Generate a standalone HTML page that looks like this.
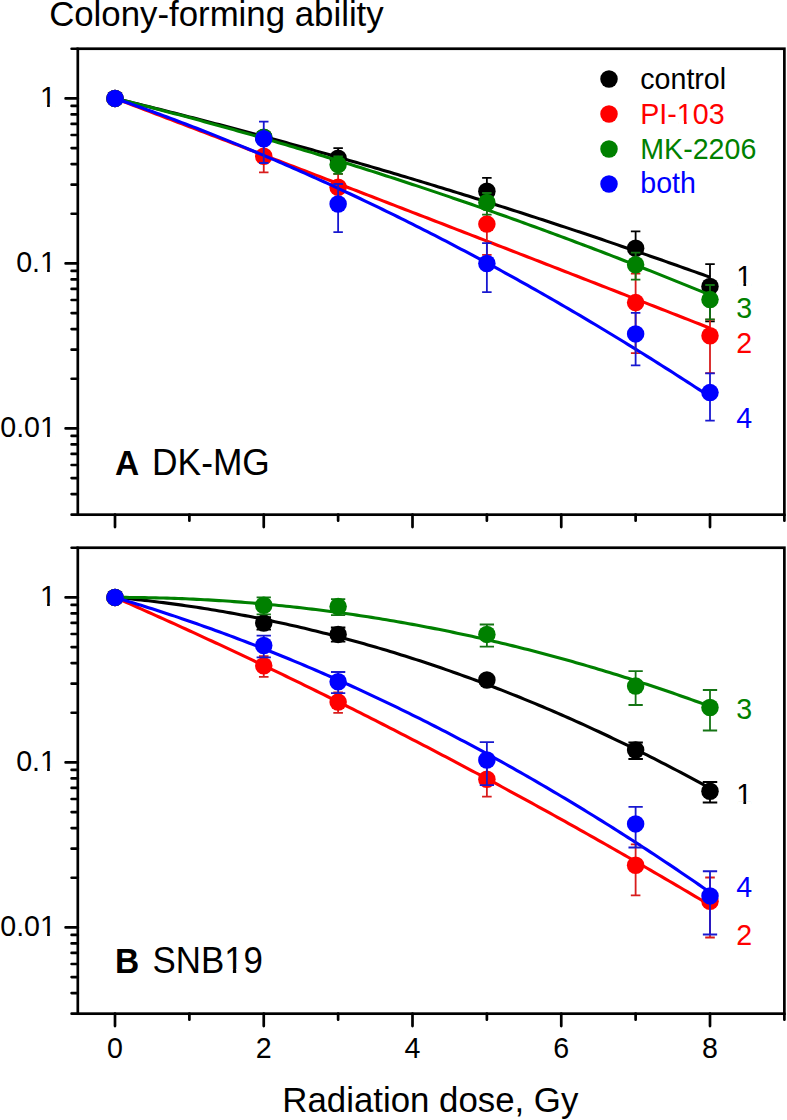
<!DOCTYPE html>
<html><head><meta charset="utf-8"><title>Colony-forming ability</title>
<style>html,body{margin:0;padding:0;background:#fff;overflow:hidden;width:787px;height:1120px;font-family:"Liberation Sans",sans-serif;}svg{display:block;}text{font-kerning:none;}</style>
</head><body>
<svg width="787" height="1120" viewBox="0 0 787 1120">
<rect width="787" height="1120" fill="#fff"/>
<g font-family="Liberation Sans, sans-serif" style="font-kerning:none">
<text transform="matrix(1.00900 0 0 1.00000 49.13 26.00)" font-size="34.50" fill="#000">Colony-forming ability</text>
<polyline points="115.00,98.40 118.72,99.30 122.44,100.20 126.16,101.10 129.88,102.01 133.59,102.92 137.31,103.83 141.03,104.75 144.75,105.67 148.47,106.59 152.19,107.51 155.91,108.44 159.62,109.37 163.34,110.30 167.06,111.23 170.78,112.17 174.50,113.11 178.22,114.05 181.94,115.00 185.66,115.95 189.38,116.90 193.09,117.85 196.81,118.81 200.53,119.77 204.25,120.73 207.97,121.69 211.69,122.66 215.41,123.63 219.12,124.61 222.84,125.58 226.56,126.56 230.28,127.54 234.00,128.53 237.72,129.51 241.44,130.50 245.16,131.49 248.88,132.49 252.59,133.49 256.31,134.49 260.03,135.49 263.75,136.50 267.47,137.51 271.19,138.52 274.91,139.53 278.62,140.55 282.34,141.57 286.06,142.59 289.78,143.62 293.50,144.65 297.22,145.68 300.94,146.71 304.66,147.75 308.38,148.79 312.09,149.83 315.81,150.87 319.53,151.92 323.25,152.97 326.97,154.02 330.69,155.08 334.41,156.14 338.12,157.20 341.84,158.26 345.56,159.33 349.28,160.40 353.00,161.47 356.72,162.55 360.44,163.62 364.16,164.71 367.88,165.79 371.59,166.87 375.31,167.96 379.03,169.06 382.75,170.15 386.47,171.25 390.19,172.35 393.91,173.45 397.62,174.55 401.34,175.66 405.06,176.77 408.78,177.89 412.50,179.00 416.22,180.12 419.94,181.24 423.66,182.37 427.38,183.50 431.09,184.63 434.81,185.76 438.53,186.90 442.25,188.03 445.97,189.18 449.69,190.32 453.41,191.47 457.12,192.62 460.84,193.77 464.56,194.92 468.28,196.08 472.00,197.24 475.72,198.40 479.44,199.57 483.16,200.74 486.88,201.91 490.59,203.08 494.31,204.26 498.03,205.44 501.75,206.62 505.47,207.81 509.19,209.00 512.91,210.19 516.62,211.38 520.34,212.58 524.06,213.78 527.78,214.98 531.50,216.18 535.22,217.39 538.94,218.60 542.66,219.81 546.38,221.03 550.09,222.25 553.81,223.47 557.53,224.69 561.25,225.92 564.97,227.15 568.69,228.38 572.41,229.62 576.12,230.85 579.84,232.09 583.56,233.34 587.28,234.58 591.00,235.83 594.72,237.08 598.44,238.34 602.16,239.59 605.88,240.85 609.59,242.12 613.31,243.38 617.03,244.65 620.75,245.92 624.47,247.19 628.19,248.47 631.91,249.75 635.62,251.03 639.34,252.31 643.06,253.60 646.78,254.89 650.50,256.18 654.22,257.48 657.94,258.78 661.66,260.08 665.38,261.38 669.09,262.69 672.81,264.00 676.53,265.31 680.25,266.63 683.97,267.94 687.69,269.26 691.41,270.59 695.12,271.91 698.84,273.24 702.56,274.57 706.28,275.91 710.00,277.24" fill="none" stroke="#000000" stroke-width="3.10" stroke-linejoin="round"/>
<path d="M338.12 148.10V170.20M333.38 148.10H342.88M333.38 170.20H342.88" stroke="#000000" stroke-width="1.80" fill="none"/>
<path d="M486.88 177.90V207.54M482.12 177.90H491.62M482.12 207.54H491.62" stroke="#000000" stroke-width="1.80" fill="none"/>
<path d="M635.62 231.40V270.19M630.88 231.40H640.38M630.88 270.19H640.38" stroke="#000000" stroke-width="1.80" fill="none"/>
<path d="M710.00 264.10V321.30M705.25 264.10H714.75M705.25 321.30H714.75" stroke="#000000" stroke-width="1.80" fill="none"/>
<circle cx="115.00" cy="98.40" r="8.75" fill="#000000"/>
<circle cx="263.75" cy="137.50" r="8.75" fill="#000000"/>
<circle cx="338.12" cy="158.30" r="8.75" fill="#000000"/>
<circle cx="486.88" cy="191.20" r="8.75" fill="#000000"/>
<circle cx="635.62" cy="248.20" r="8.75" fill="#000000"/>
<circle cx="710.00" cy="286.40" r="8.75" fill="#000000"/>
<polyline points="115.00,98.40 118.72,99.81 122.44,101.22 126.16,102.64 129.88,104.05 133.59,105.46 137.31,106.88 141.03,108.29 144.75,109.71 148.47,111.12 152.19,112.54 155.91,113.95 159.62,115.37 163.34,116.78 167.06,118.20 170.78,119.62 174.50,121.03 178.22,122.45 181.94,123.87 185.66,125.28 189.38,126.70 193.09,128.12 196.81,129.54 200.53,130.96 204.25,132.38 207.97,133.80 211.69,135.22 215.41,136.64 219.12,138.06 222.84,139.48 226.56,140.90 230.28,142.32 234.00,143.74 237.72,145.16 241.44,146.59 245.16,148.01 248.88,149.43 252.59,150.85 256.31,152.28 260.03,153.70 263.75,155.12 267.47,156.55 271.19,157.97 274.91,159.40 278.62,160.82 282.34,162.25 286.06,163.67 289.78,165.10 293.50,166.53 297.22,167.95 300.94,169.38 304.66,170.81 308.38,172.23 312.09,173.66 315.81,175.09 319.53,176.52 323.25,177.95 326.97,179.38 330.69,180.81 334.41,182.24 338.12,183.67 341.84,185.10 345.56,186.53 349.28,187.96 353.00,189.39 356.72,190.82 360.44,192.25 364.16,193.68 367.88,195.12 371.59,196.55 375.31,197.98 379.03,199.41 382.75,200.85 386.47,202.28 390.19,203.71 393.91,205.15 397.62,206.58 401.34,208.02 405.06,209.45 408.78,210.89 412.50,212.33 416.22,213.76 419.94,215.20 423.66,216.63 427.38,218.07 431.09,219.51 434.81,220.95 438.53,222.38 442.25,223.82 445.97,225.26 449.69,226.70 453.41,228.14 457.12,229.58 460.84,231.02 464.56,232.46 468.28,233.90 472.00,235.34 475.72,236.78 479.44,238.22 483.16,239.66 486.88,241.10 490.59,242.55 494.31,243.99 498.03,245.43 501.75,246.88 505.47,248.32 509.19,249.76 512.91,251.21 516.62,252.65 520.34,254.09 524.06,255.54 527.78,256.98 531.50,258.43 535.22,259.88 538.94,261.32 542.66,262.77 546.38,264.21 550.09,265.66 553.81,267.11 557.53,268.56 561.25,270.00 564.97,271.45 568.69,272.90 572.41,274.35 576.12,275.80 579.84,277.25 583.56,278.70 587.28,280.15 591.00,281.60 594.72,283.05 598.44,284.50 602.16,285.95 605.88,287.40 609.59,288.85 613.31,290.30 617.03,291.76 620.75,293.21 624.47,294.66 628.19,296.11 631.91,297.57 635.62,299.02 639.34,300.48 643.06,301.93 646.78,303.38 650.50,304.84 654.22,306.29 657.94,307.75 661.66,309.21 665.38,310.66 669.09,312.12 672.81,313.57 676.53,315.03 680.25,316.49 683.97,317.95 687.69,319.40 691.41,320.86 695.12,322.32 698.84,323.78 702.56,325.24 706.28,326.70 710.00,328.16" fill="none" stroke="#ff0000" stroke-width="3.10" stroke-linejoin="round"/>
<path d="M263.75 143.23V172.30M259.00 143.23H268.50M259.00 172.30H268.50" stroke="#d81c1c" stroke-width="1.80" fill="none"/>
<path d="M338.12 173.90V203.54M333.38 173.90H342.88M333.38 203.54H342.88" stroke="#d81c1c" stroke-width="1.80" fill="none"/>
<path d="M486.88 202.68V254.80M482.12 202.68H491.62M482.12 254.80H491.62" stroke="#d81c1c" stroke-width="1.80" fill="none"/>
<path d="M635.62 273.60V353.10M630.88 273.60H640.38M630.88 353.10H640.38" stroke="#d81c1c" stroke-width="1.80" fill="none"/>
<path d="M710.00 319.60V373.20M705.25 319.60H714.75M705.25 373.20H714.75" stroke="#d81c1c" stroke-width="1.80" fill="none"/>
<circle cx="115.00" cy="98.40" r="8.75" fill="#ff0000"/>
<circle cx="263.75" cy="156.30" r="8.75" fill="#ff0000"/>
<circle cx="338.12" cy="187.20" r="8.75" fill="#ff0000"/>
<circle cx="486.88" cy="224.10" r="8.75" fill="#ff0000"/>
<circle cx="635.62" cy="302.60" r="8.75" fill="#ff0000"/>
<circle cx="710.00" cy="335.80" r="8.75" fill="#ff0000"/>
<polyline points="115.00,98.40 118.72,99.32 122.44,100.25 126.16,101.18 129.88,102.12 133.59,103.06 137.31,104.00 141.03,104.95 144.75,105.90 148.47,106.85 152.19,107.81 155.91,108.77 159.62,109.74 163.34,110.71 167.06,111.68 170.78,112.66 174.50,113.64 178.22,114.62 181.94,115.61 185.66,116.61 189.38,117.60 193.09,118.60 196.81,119.61 200.53,120.62 204.25,121.63 207.97,122.64 211.69,123.66 215.41,124.69 219.12,125.71 222.84,126.74 226.56,127.78 230.28,128.82 234.00,129.86 237.72,130.91 241.44,131.96 245.16,133.01 248.88,134.07 252.59,135.13 256.31,136.20 260.03,137.27 263.75,138.34 267.47,139.42 271.19,140.50 274.91,141.58 278.62,142.67 282.34,143.76 286.06,144.86 289.78,145.96 293.50,147.06 297.22,148.17 300.94,149.28 304.66,150.40 308.38,151.52 312.09,152.64 315.81,153.77 319.53,154.90 323.25,156.04 326.97,157.17 330.69,158.32 334.41,159.46 338.12,160.61 341.84,161.77 345.56,162.92 349.28,164.09 353.00,165.25 356.72,166.42 360.44,167.59 364.16,168.77 367.88,169.95 371.59,171.13 375.31,172.32 379.03,173.52 382.75,174.71 386.47,175.91 390.19,177.12 393.91,178.32 397.62,179.53 401.34,180.75 405.06,181.97 408.78,183.19 412.50,184.42 416.22,185.65 419.94,186.88 423.66,188.12 427.38,189.36 431.09,190.61 434.81,191.86 438.53,193.11 442.25,194.37 445.97,195.63 449.69,196.90 453.41,198.17 457.12,199.44 460.84,200.72 464.56,202.00 468.28,203.28 472.00,204.57 475.72,205.86 479.44,207.16 483.16,208.46 486.88,209.76 490.59,211.07 494.31,212.38 498.03,213.69 501.75,215.01 505.47,216.33 509.19,217.66 512.91,218.99 516.62,220.32 520.34,221.66 524.06,223.00 527.78,224.35 531.50,225.70 535.22,227.05 538.94,228.41 542.66,229.77 546.38,231.14 550.09,232.50 553.81,233.88 557.53,235.25 561.25,236.63 564.97,238.02 568.69,239.41 572.41,240.80 576.12,242.19 579.84,243.59 583.56,245.00 587.28,246.40 591.00,247.81 594.72,249.23 598.44,250.65 602.16,252.07 605.88,253.49 609.59,254.93 613.31,256.36 617.03,257.80 620.75,259.24 624.47,260.68 628.19,262.13 631.91,263.59 635.62,265.04 639.34,266.50 643.06,267.97 646.78,269.44 650.50,270.91 654.22,272.38 657.94,273.86 661.66,275.35 665.38,276.84 669.09,278.33 672.81,279.82 676.53,281.32 680.25,282.82 683.97,284.33 687.69,285.84 691.41,287.36 695.12,288.87 698.84,290.40 702.56,291.92 706.28,293.45 710.00,294.99" fill="none" stroke="#008000" stroke-width="3.10" stroke-linejoin="round"/>
<path d="M338.12 156.37V173.90M333.38 156.37H342.88M333.38 173.90H342.88" stroke="#147414" stroke-width="1.80" fill="none"/>
<path d="M486.88 193.00V214.60M482.12 193.00H491.62M482.12 214.60H491.62" stroke="#147414" stroke-width="1.80" fill="none"/>
<path d="M635.62 252.60V279.70M630.88 252.60H640.38M630.88 279.70H640.38" stroke="#147414" stroke-width="1.80" fill="none"/>
<path d="M710.00 285.00V319.40M705.25 285.00H714.75M705.25 319.40H714.75" stroke="#147414" stroke-width="1.80" fill="none"/>
<circle cx="115.00" cy="98.40" r="8.75" fill="#008000"/>
<circle cx="263.75" cy="137.30" r="8.75" fill="#008000"/>
<circle cx="338.12" cy="164.60" r="8.75" fill="#008000"/>
<circle cx="486.88" cy="202.50" r="8.75" fill="#008000"/>
<circle cx="635.62" cy="264.80" r="8.75" fill="#008000"/>
<circle cx="710.00" cy="299.60" r="8.75" fill="#008000"/>
<polyline points="115.00,98.40 118.72,99.68 122.44,100.97 126.16,102.27 129.88,103.58 133.59,104.89 137.31,106.21 141.03,107.54 144.75,108.87 148.47,110.21 152.19,111.56 155.91,112.92 159.62,114.28 163.34,115.65 167.06,117.03 170.78,118.42 174.50,119.81 178.22,121.21 181.94,122.62 185.66,124.03 189.38,125.46 193.09,126.89 196.81,128.32 200.53,129.77 204.25,131.22 207.97,132.68 211.69,134.14 215.41,135.62 219.12,137.10 222.84,138.58 226.56,140.08 230.28,141.58 234.00,143.09 237.72,144.61 241.44,146.13 245.16,147.67 248.88,149.20 252.59,150.75 256.31,152.30 260.03,153.87 263.75,155.43 267.47,157.01 271.19,158.59 274.91,160.18 278.62,161.78 282.34,163.39 286.06,165.00 289.78,166.62 293.50,168.24 297.22,169.88 300.94,171.52 304.66,173.17 308.38,174.82 312.09,176.49 315.81,178.16 319.53,179.84 323.25,181.52 326.97,183.21 330.69,184.91 334.41,186.62 338.12,188.33 341.84,190.06 345.56,191.79 349.28,193.52 353.00,195.27 356.72,197.02 360.44,198.77 364.16,200.54 367.88,202.31 371.59,204.09 375.31,205.88 379.03,207.68 382.75,209.48 386.47,211.29 390.19,213.10 393.91,214.93 397.62,216.76 401.34,218.60 405.06,220.44 408.78,222.30 412.50,224.16 416.22,226.03 419.94,227.90 423.66,229.78 427.38,231.67 431.09,233.57 434.81,235.48 438.53,237.39 442.25,239.31 445.97,241.23 449.69,243.17 453.41,245.11 457.12,247.06 460.84,249.01 464.56,250.97 468.28,252.94 472.00,254.92 475.72,256.91 479.44,258.90 483.16,260.90 486.88,262.90 490.59,264.92 494.31,266.94 498.03,268.97 501.75,271.00 505.47,273.05 509.19,275.10 512.91,277.16 516.62,279.22 520.34,281.29 524.06,283.37 527.78,285.46 531.50,287.56 535.22,289.66 538.94,291.77 542.66,293.88 546.38,296.01 550.09,298.14 553.81,300.27 557.53,302.42 561.25,304.57 564.97,306.73 568.69,308.90 572.41,311.08 576.12,313.26 579.84,315.45 583.56,317.64 587.28,319.85 591.00,322.06 594.72,324.28 598.44,326.50 602.16,328.74 605.88,330.98 609.59,333.23 613.31,335.48 617.03,337.74 620.75,340.01 624.47,342.29 628.19,344.57 631.91,346.87 635.62,349.16 639.34,351.47 643.06,353.78 646.78,356.11 650.50,358.43 654.22,360.77 657.94,363.11 661.66,365.46 665.38,367.82 669.09,370.18 672.81,372.56 676.53,374.94 680.25,377.32 683.97,379.72 687.69,382.12 691.41,384.53 695.12,386.94 698.84,389.37 702.56,391.80 706.28,394.23 710.00,396.68" fill="none" stroke="#0000ff" stroke-width="3.10" stroke-linejoin="round"/>
<path d="M263.75 121.70V163.00M259.00 121.70H268.50M259.00 163.00H268.50" stroke="#1818d0" stroke-width="1.80" fill="none"/>
<path d="M338.12 184.00V232.20M333.38 184.00H342.88M333.38 232.20H342.88" stroke="#1818d0" stroke-width="1.80" fill="none"/>
<path d="M486.88 243.10V292.10M482.12 243.10H491.62M482.12 292.10H491.62" stroke="#1818d0" stroke-width="1.80" fill="none"/>
<path d="M635.62 312.90V365.40M630.88 312.90H640.38M630.88 365.40H640.38" stroke="#1818d0" stroke-width="1.80" fill="none"/>
<path d="M710.00 373.40V420.60M705.25 373.40H714.75M705.25 420.60H714.75" stroke="#1818d0" stroke-width="1.80" fill="none"/>
<circle cx="115.00" cy="98.40" r="8.75" fill="#0000ff"/>
<circle cx="263.75" cy="138.80" r="8.75" fill="#0000ff"/>
<circle cx="338.12" cy="204.00" r="8.75" fill="#0000ff"/>
<circle cx="486.88" cy="263.50" r="8.75" fill="#0000ff"/>
<circle cx="635.62" cy="333.90" r="8.75" fill="#0000ff"/>
<circle cx="710.00" cy="392.60" r="8.75" fill="#0000ff"/>
<rect x="77.81" y="48.73" width="706.56" height="465.94" fill="none" stroke="#000" stroke-width="2.70"/>
<path d="M77.81 514.67H71.61M77.81 494.06H71.61M77.81 478.07H71.61M77.81 465.01H71.61M77.81 453.96H71.61M77.81 444.39H71.61M77.81 435.95H71.61M77.81 428.40H65.61M77.81 378.73H71.61M77.81 349.67H71.61M77.81 329.06H71.61M77.81 313.07H71.61M77.81 300.01H71.61M77.81 288.96H71.61M77.81 279.39H71.61M77.81 270.95H71.61M77.81 263.40H65.61M77.81 213.73H71.61M77.81 184.67H71.61M77.81 164.06H71.61M77.81 148.07H71.61M77.81 135.01H71.61M77.81 123.96H71.61M77.81 114.39H71.61M77.81 105.95H71.61M77.81 98.40H65.61M77.81 48.73H71.61M115.00 514.67V527.07M189.38 514.67V520.67M263.75 514.67V527.07M338.12 514.67V520.67M412.50 514.67V527.07M486.88 514.67V520.67M561.25 514.67V527.07M635.62 514.67V520.67M710.00 514.67V527.07M784.38 514.67V520.67" stroke="#000" stroke-width="2.70" stroke-linecap="round" fill="none"/>
<text transform="matrix(1.00000 0 0 1.04045 39.99 106.80)" font-size="28.60" fill="#000">1</text>
<text transform="matrix(1.00000 0 0 1.04045 16.14 271.80)" font-size="28.60" fill="#000">0.1</text>
<text transform="matrix(1.00000 0 0 1.04045 0.24 436.80)" font-size="28.60" fill="#000">0.01</text>
<polyline points="115.00,597.40 118.72,597.74 122.44,598.09 126.16,598.45 129.88,598.82 133.59,599.20 137.31,599.59 141.03,599.99 144.75,600.41 148.47,600.83 152.19,601.26 155.91,601.71 159.62,602.17 163.34,602.63 167.06,603.11 170.78,603.60 174.50,604.10 178.22,604.61 181.94,605.13 185.66,605.66 189.38,606.21 193.09,606.76 196.81,607.32 200.53,607.90 204.25,608.48 207.97,609.08 211.69,609.69 215.41,610.30 219.12,610.93 222.84,611.57 226.56,612.22 230.28,612.88 234.00,613.55 237.72,614.24 241.44,614.93 245.16,615.63 248.88,616.35 252.59,617.07 256.31,617.81 260.03,618.55 263.75,619.31 267.47,620.08 271.19,620.86 274.91,621.65 278.62,622.45 282.34,623.26 286.06,624.08 289.78,624.92 293.50,625.76 297.22,626.61 300.94,627.48 304.66,628.35 308.38,629.24 312.09,630.14 315.81,631.05 319.53,631.97 323.25,632.90 326.97,633.84 330.69,634.79 334.41,635.75 338.12,636.72 341.84,637.70 345.56,638.70 349.28,639.70 353.00,640.72 356.72,641.75 360.44,642.78 364.16,643.83 367.88,644.89 371.59,645.96 375.31,647.04 379.03,648.13 382.75,649.23 386.47,650.34 390.19,651.47 393.91,652.60 397.62,653.75 401.34,654.90 405.06,656.07 408.78,657.24 412.50,658.43 416.22,659.63 419.94,660.84 423.66,662.06 427.38,663.29 431.09,664.53 434.81,665.78 438.53,667.05 442.25,668.32 445.97,669.61 449.69,670.90 453.41,672.21 457.12,673.52 460.84,674.85 464.56,676.19 468.28,677.54 472.00,678.90 475.72,680.27 479.44,681.65 483.16,683.04 486.88,684.45 490.59,685.86 494.31,687.28 498.03,688.72 501.75,690.16 505.47,691.62 509.19,693.09 512.91,694.57 516.62,696.06 520.34,697.55 524.06,699.07 527.78,700.59 531.50,702.12 535.22,703.66 538.94,705.21 542.66,706.78 546.38,708.35 550.09,709.94 553.81,711.54 557.53,713.14 561.25,714.76 564.97,716.39 568.69,718.03 572.41,719.68 576.12,721.34 579.84,723.01 583.56,724.69 587.28,726.39 591.00,728.09 594.72,729.81 598.44,731.53 602.16,733.27 605.88,735.01 609.59,736.77 613.31,738.54 617.03,740.32 620.75,742.11 624.47,743.91 628.19,745.72 631.91,747.54 635.62,749.38 639.34,751.22 643.06,753.08 646.78,754.94 650.50,756.82 654.22,758.70 657.94,760.60 661.66,762.51 665.38,764.43 669.09,766.36 672.81,768.30 676.53,770.25 680.25,772.21 683.97,774.18 687.69,776.17 691.41,778.16 695.12,780.17 698.84,782.18 702.56,784.21 706.28,786.25 710.00,788.30" fill="none" stroke="#000000" stroke-width="3.10" stroke-linejoin="round"/>
<path d="M263.75 617.06V629.70M256.50 617.06H271.00M256.50 629.70H271.00" stroke="#000000" stroke-width="1.80" fill="none"/>
<path d="M338.12 627.50V641.60M330.88 627.50H345.38M330.88 641.60H345.38" stroke="#000000" stroke-width="1.80" fill="none"/>
<path d="M486.88 676.00V684.00M479.62 676.00H494.12M479.62 684.00H494.12" stroke="#000000" stroke-width="1.80" fill="none"/>
<path d="M635.62 742.50V759.00M628.38 742.50H642.88M628.38 759.00H642.88" stroke="#000000" stroke-width="1.80" fill="none"/>
<path d="M710.00 782.00V802.50M702.75 782.00H717.25M702.75 802.50H717.25" stroke="#000000" stroke-width="1.80" fill="none"/>
<circle cx="115.00" cy="597.40" r="8.75" fill="#000000"/>
<circle cx="263.75" cy="623.10" r="8.75" fill="#000000"/>
<circle cx="338.12" cy="634.40" r="8.75" fill="#000000"/>
<circle cx="486.88" cy="680.00" r="8.75" fill="#000000"/>
<circle cx="635.62" cy="750.00" r="8.75" fill="#000000"/>
<circle cx="710.00" cy="791.25" r="8.75" fill="#000000"/>
<polyline points="115.00,597.40 118.72,599.03 122.44,600.67 126.16,602.31 129.88,603.95 133.59,605.59 137.31,607.24 141.03,608.90 144.75,610.55 148.47,612.21 152.19,613.88 155.91,615.55 159.62,617.22 163.34,618.89 167.06,620.57 170.78,622.26 174.50,623.94 178.22,625.63 181.94,627.33 185.66,629.02 189.38,630.73 193.09,632.43 196.81,634.14 200.53,635.85 204.25,637.57 207.97,639.29 211.69,641.01 215.41,642.74 219.12,644.47 222.84,646.20 226.56,647.94 230.28,649.68 234.00,651.43 237.72,653.18 241.44,654.93 245.16,656.68 248.88,658.44 252.59,660.21 256.31,661.98 260.03,663.75 263.75,665.52 267.47,667.30 271.19,669.08 274.91,670.87 278.62,672.66 282.34,674.45 286.06,676.25 289.78,678.05 293.50,679.85 297.22,681.66 300.94,683.47 304.66,685.29 308.38,687.10 312.09,688.93 315.81,690.75 319.53,692.58 323.25,694.42 326.97,696.25 330.69,698.09 334.41,699.94 338.12,701.79 341.84,703.64 345.56,705.49 349.28,707.35 353.00,709.22 356.72,711.08 360.44,712.95 364.16,714.83 367.88,716.70 371.59,718.59 375.31,720.47 379.03,722.36 382.75,724.25 386.47,726.15 390.19,728.05 393.91,729.95 397.62,731.86 401.34,733.77 405.06,735.68 408.78,737.60 412.50,739.52 416.22,741.45 419.94,743.38 423.66,745.31 427.38,747.24 431.09,749.18 434.81,751.13 438.53,753.08 442.25,755.03 445.97,756.98 449.69,758.94 453.41,760.90 457.12,762.87 460.84,764.84 464.56,766.81 468.28,768.79 472.00,770.77 475.72,772.75 479.44,774.74 483.16,776.73 486.88,778.73 490.59,780.72 494.31,782.73 498.03,784.73 501.75,786.74 505.47,788.76 509.19,790.77 512.91,792.79 516.62,794.82 520.34,796.85 524.06,798.88 527.78,800.91 531.50,802.95 535.22,805.00 538.94,807.04 542.66,809.09 546.38,811.15 550.09,813.20 553.81,815.27 557.53,817.33 561.25,819.40 564.97,821.47 568.69,823.55 572.41,825.63 576.12,827.71 579.84,829.80 583.56,831.89 587.28,833.98 591.00,836.08 594.72,838.18 598.44,840.29 602.16,842.40 605.88,844.51 609.59,846.63 613.31,848.75 617.03,850.87 620.75,853.00 624.47,855.13 628.19,857.26 631.91,859.40 635.62,861.54 639.34,863.69 643.06,865.84 646.78,867.99 650.50,870.15 654.22,872.31 657.94,874.47 661.66,876.64 665.38,878.81 669.09,880.99 672.81,883.17 676.53,885.35 680.25,887.53 683.97,889.72 687.69,891.92 691.41,894.11 695.12,896.32 698.84,898.52 702.56,900.73 706.28,902.94 710.00,905.16" fill="none" stroke="#ff0000" stroke-width="3.10" stroke-linejoin="round"/>
<path d="M263.75 656.27V676.80M258.95 656.27H268.55M258.95 676.80H268.55" stroke="#d81c1c" stroke-width="1.80" fill="none"/>
<path d="M338.12 692.50V712.80M333.32 692.50H342.93M333.32 712.80H342.93" stroke="#d81c1c" stroke-width="1.80" fill="none"/>
<path d="M486.88 765.37V796.60M482.07 765.37H491.68M482.07 796.60H491.68" stroke="#d81c1c" stroke-width="1.80" fill="none"/>
<path d="M635.62 844.30V895.30M630.83 844.30H640.42M630.83 895.30H640.42" stroke="#d81c1c" stroke-width="1.80" fill="none"/>
<path d="M710.00 877.50V937.50M705.20 877.50H714.80M705.20 937.50H714.80" stroke="#d81c1c" stroke-width="1.80" fill="none"/>
<circle cx="115.00" cy="597.40" r="8.75" fill="#ff0000"/>
<circle cx="263.75" cy="665.80" r="8.75" fill="#ff0000"/>
<circle cx="338.12" cy="702.10" r="8.75" fill="#ff0000"/>
<circle cx="486.88" cy="779.30" r="8.75" fill="#ff0000"/>
<circle cx="635.62" cy="865.30" r="8.75" fill="#ff0000"/>
<circle cx="710.00" cy="901.30" r="8.75" fill="#ff0000"/>
<polyline points="115.00,597.40 118.72,597.40 122.44,597.40 126.16,597.42 129.88,597.44 133.59,597.47 137.31,597.51 141.03,597.56 144.75,597.62 148.47,597.69 152.19,597.76 155.91,597.84 159.62,597.94 163.34,598.04 167.06,598.15 170.78,598.26 174.50,598.39 178.22,598.53 181.94,598.67 185.66,598.82 189.38,598.98 193.09,599.15 196.81,599.33 200.53,599.52 204.25,599.71 207.97,599.92 211.69,600.13 215.41,600.35 219.12,600.58 222.84,600.82 226.56,601.06 230.28,601.32 234.00,601.58 237.72,601.86 241.44,602.14 245.16,602.43 248.88,602.72 252.59,603.03 256.31,603.35 260.03,603.67 263.75,604.00 267.47,604.35 271.19,604.70 274.91,605.05 278.62,605.42 282.34,605.80 286.06,606.18 289.78,606.57 293.50,606.98 297.22,607.39 300.94,607.80 304.66,608.23 308.38,608.67 312.09,609.11 315.81,609.57 319.53,610.03 323.25,610.50 326.97,610.98 330.69,611.46 334.41,611.96 338.12,612.46 341.84,612.98 345.56,613.50 349.28,614.03 353.00,614.57 356.72,615.12 360.44,615.67 364.16,616.24 367.88,616.81 371.59,617.39 375.31,617.98 379.03,618.58 382.75,619.19 386.47,619.81 390.19,620.43 393.91,621.07 397.62,621.71 401.34,622.36 405.06,623.02 408.78,623.69 412.50,624.36 416.22,625.05 419.94,625.74 423.66,626.45 427.38,627.16 431.09,627.88 434.81,628.61 438.53,629.34 442.25,630.09 445.97,630.84 449.69,631.60 453.41,632.38 457.12,633.15 460.84,633.94 464.56,634.74 468.28,635.55 472.00,636.36 475.72,637.18 479.44,638.01 483.16,638.85 486.88,639.70 490.59,640.56 494.31,641.43 498.03,642.30 501.75,643.18 505.47,644.08 509.19,644.98 512.91,645.88 516.62,646.80 520.34,647.73 524.06,648.66 527.78,649.61 531.50,650.56 535.22,651.52 538.94,652.49 542.66,653.46 546.38,654.45 550.09,655.44 553.81,656.45 557.53,657.46 561.25,658.48 564.97,659.51 568.69,660.55 572.41,661.59 576.12,662.65 579.84,663.71 583.56,664.78 587.28,665.87 591.00,666.95 594.72,668.05 598.44,669.16 602.16,670.27 605.88,671.40 609.59,672.53 613.31,673.67 617.03,674.82 620.75,675.98 624.47,677.15 628.19,678.32 631.91,679.50 635.62,680.70 639.34,681.90 643.06,683.11 646.78,684.33 650.50,685.55 654.22,686.79 657.94,688.03 661.66,689.29 665.38,690.55 669.09,691.82 672.81,693.09 676.53,694.38 680.25,695.68 683.97,696.98 687.69,698.29 691.41,699.62 695.12,700.95 698.84,702.28 702.56,703.63 706.28,704.99 710.00,706.35" fill="none" stroke="#008000" stroke-width="3.10" stroke-linejoin="round"/>
<path d="M263.75 597.40V614.30M256.60 597.40H270.90M256.60 614.30H270.90" stroke="#147414" stroke-width="1.80" fill="none"/>
<path d="M338.12 599.10V615.20M330.98 599.10H345.27M330.98 615.20H345.27" stroke="#147414" stroke-width="1.80" fill="none"/>
<path d="M486.88 624.50V646.60M479.73 624.50H494.02M479.73 646.60H494.02" stroke="#147414" stroke-width="1.80" fill="none"/>
<path d="M635.62 671.10V705.00M628.48 671.10H642.77M628.48 705.00H642.77" stroke="#147414" stroke-width="1.80" fill="none"/>
<path d="M710.00 690.00V730.50M702.85 690.00H717.15M702.85 730.50H717.15" stroke="#147414" stroke-width="1.80" fill="none"/>
<circle cx="115.00" cy="597.40" r="8.75" fill="#008000"/>
<circle cx="263.75" cy="605.30" r="8.75" fill="#008000"/>
<circle cx="338.12" cy="606.60" r="8.75" fill="#008000"/>
<circle cx="486.88" cy="634.40" r="8.75" fill="#008000"/>
<circle cx="635.62" cy="686.10" r="8.75" fill="#008000"/>
<circle cx="710.00" cy="707.50" r="8.75" fill="#008000"/>
<polyline points="115.00,597.40 118.72,598.50 122.44,599.61 126.16,600.73 129.88,601.86 133.59,603.00 137.31,604.15 141.03,605.31 144.75,606.48 148.47,607.65 152.19,608.84 155.91,610.03 159.62,611.24 163.34,612.45 167.06,613.67 170.78,614.91 174.50,616.15 178.22,617.40 181.94,618.66 185.66,619.93 189.38,621.21 193.09,622.50 196.81,623.80 200.53,625.10 204.25,626.42 207.97,627.74 211.69,629.08 215.41,630.42 219.12,631.78 222.84,633.14 226.56,634.51 230.28,635.89 234.00,637.29 237.72,638.69 241.44,640.10 245.16,641.51 248.88,642.94 252.59,644.38 256.31,645.83 260.03,647.28 263.75,648.75 267.47,650.22 271.19,651.71 274.91,653.20 278.62,654.70 282.34,656.22 286.06,657.74 289.78,659.27 293.50,660.81 297.22,662.36 300.94,663.92 304.66,665.49 308.38,667.06 312.09,668.65 315.81,670.25 319.53,671.85 323.25,673.47 326.97,675.09 330.69,676.72 334.41,678.37 338.12,680.02 341.84,681.68 345.56,683.35 349.28,685.03 353.00,686.72 356.72,688.42 360.44,690.13 364.16,691.84 367.88,693.57 371.59,695.31 375.31,697.05 379.03,698.81 382.75,700.57 386.47,702.34 390.19,704.13 393.91,705.92 397.62,707.72 401.34,709.53 405.06,711.35 408.78,713.18 412.50,715.02 416.22,716.87 419.94,718.72 423.66,720.59 427.38,722.47 431.09,724.35 434.81,726.25 438.53,728.15 442.25,730.06 445.97,731.99 449.69,733.92 453.41,735.86 457.12,737.81 460.84,739.77 464.56,741.74 468.28,743.72 472.00,745.70 475.72,747.70 479.44,749.71 483.16,751.72 486.88,753.75 490.59,755.78 494.31,757.83 498.03,759.88 501.75,761.94 505.47,764.01 509.19,766.10 512.91,768.19 516.62,770.29 520.34,772.39 524.06,774.51 527.78,776.64 531.50,778.78 535.22,780.92 538.94,783.08 542.66,785.24 546.38,787.42 550.09,789.60 553.81,791.80 557.53,794.00 561.25,796.21 564.97,798.43 568.69,800.66 572.41,802.90 576.12,805.15 579.84,807.41 583.56,809.68 587.28,811.95 591.00,814.24 594.72,816.53 598.44,818.84 602.16,821.15 605.88,823.48 609.59,825.81 613.31,828.15 617.03,830.50 620.75,832.86 624.47,835.23 628.19,837.61 631.91,840.00 635.62,842.40 639.34,844.81 643.06,847.22 646.78,849.65 650.50,852.09 654.22,854.53 657.94,856.99 661.66,859.45 665.38,861.92 669.09,864.40 672.81,866.89 676.53,869.40 680.25,871.91 683.97,874.42 687.69,876.95 691.41,879.49 695.12,882.04 698.84,884.60 702.56,887.16 706.28,889.74 710.00,892.32" fill="none" stroke="#0000ff" stroke-width="3.10" stroke-linejoin="round"/>
<path d="M263.75 635.60V657.40M256.60 635.60H270.90M256.60 657.40H270.90" stroke="#1818d0" stroke-width="1.80" fill="none"/>
<path d="M338.12 672.00V693.20M330.98 672.00H345.27M330.98 693.20H345.27" stroke="#1818d0" stroke-width="1.80" fill="none"/>
<path d="M486.88 742.10V785.20M479.73 742.10H494.02M479.73 785.20H494.02" stroke="#1818d0" stroke-width="1.80" fill="none"/>
<path d="M635.62 806.80V847.50M628.48 806.80H642.77M628.48 847.50H642.77" stroke="#1818d0" stroke-width="1.80" fill="none"/>
<path d="M710.00 871.25V934.50M702.85 871.25H717.15M702.85 934.50H717.15" stroke="#1818d0" stroke-width="1.80" fill="none"/>
<circle cx="115.00" cy="597.40" r="8.75" fill="#0000ff"/>
<circle cx="263.75" cy="645.50" r="8.75" fill="#0000ff"/>
<circle cx="338.12" cy="681.70" r="8.75" fill="#0000ff"/>
<circle cx="486.88" cy="760.00" r="8.75" fill="#0000ff"/>
<circle cx="635.62" cy="823.90" r="8.75" fill="#0000ff"/>
<circle cx="710.00" cy="895.90" r="8.75" fill="#0000ff"/>
<rect x="77.81" y="547.73" width="706.56" height="465.94" fill="none" stroke="#000" stroke-width="2.70"/>
<path d="M77.81 1013.67H71.61M77.81 993.06H71.61M77.81 977.07H71.61M77.81 964.01H71.61M77.81 952.96H71.61M77.81 943.39H71.61M77.81 934.95H71.61M77.81 927.40H65.61M77.81 877.73H71.61M77.81 848.67H71.61M77.81 828.06H71.61M77.81 812.07H71.61M77.81 799.01H71.61M77.81 787.96H71.61M77.81 778.39H71.61M77.81 769.95H71.61M77.81 762.40H65.61M77.81 712.73H71.61M77.81 683.67H71.61M77.81 663.06H71.61M77.81 647.07H71.61M77.81 634.01H71.61M77.81 622.96H71.61M77.81 613.39H71.61M77.81 604.95H71.61M77.81 597.40H65.61M77.81 547.73H71.61M115.00 1013.67V1026.07M189.38 1013.67V1019.67M263.75 1013.67V1026.07M338.12 1013.67V1019.67M412.50 1013.67V1026.07M486.88 1013.67V1019.67M561.25 1013.67V1026.07M635.62 1013.67V1019.67M710.00 1013.67V1026.07M784.38 1013.67V1019.67" stroke="#000" stroke-width="2.70" stroke-linecap="round" fill="none"/>
<text transform="matrix(1.00000 0 0 1.04045 39.99 605.80)" font-size="28.60" fill="#000">1</text>
<text transform="matrix(1.00000 0 0 1.04045 16.14 770.80)" font-size="28.60" fill="#000">0.1</text>
<text transform="matrix(1.00000 0 0 1.04045 0.24 935.80)" font-size="28.60" fill="#000">0.01</text>
<circle cx="609.0" cy="79.00" r="8.75" fill="#000000"/>
<text transform="matrix(1.00000 0 0 1.00000 640.30 88.60)" font-size="28.60" fill="#000000">control</text>
<circle cx="609.0" cy="114.00" r="8.75" fill="#ff0000"/>
<text transform="matrix(1.00000 0 0 1.04045 640.30 124.00)" font-size="28.60" fill="#ff0000">PI-103</text>
<circle cx="609.0" cy="149.00" r="8.75" fill="#008000"/>
<text transform="matrix(1.00000 0 0 1.04045 640.30 159.00)" font-size="28.60" fill="#008000">MK-2206</text>
<circle cx="609.0" cy="184.00" r="8.75" fill="#0000ff"/>
<text transform="matrix(1.00000 0 0 1.00000 640.30 193.40)" font-size="28.60" fill="#0000ff">both</text>
<text transform="matrix(1.00000 0 0 1.04045 736.30 286.00)" font-size="28.60" fill="#000000">1</text>
<text transform="matrix(1.00000 0 0 1.04045 736.30 317.80)" font-size="28.60" fill="#008000">3</text>
<text transform="matrix(1.00000 0 0 1.04045 736.30 353.00)" font-size="28.60" fill="#ff0000">2</text>
<text transform="matrix(1.00000 0 0 1.04045 736.30 428.10)" font-size="28.60" fill="#0000ff">4</text>
<text transform="matrix(1.00000 0 0 1.04045 736.30 719.30)" font-size="28.60" fill="#008000">3</text>
<text transform="matrix(1.00000 0 0 1.04045 736.30 804.30)" font-size="28.60" fill="#000000">1</text>
<text transform="matrix(1.00000 0 0 1.04045 736.30 896.80)" font-size="28.60" fill="#0000ff">4</text>
<text transform="matrix(1.00000 0 0 1.04045 736.30 944.60)" font-size="28.60" fill="#ff0000">2</text>
<text transform="matrix(1.00000 0 0 1.04045 115.02 475.30)" font-size="33.50" fill="#000" font-weight="bold">A</text>
<text transform="matrix(1.00000 0 0 1.04045 152.10 475.20)" font-size="35.30" fill="#000">DK-MG</text>
<text transform="matrix(1.00000 0 0 1.04045 114.96 972.90)" font-size="33.50" fill="#000" font-weight="bold">B</text>
<text transform="matrix(0.98800 0 0 1.04045 152.52 972.90)" font-size="35.30" fill="#000">SNB19</text>
<text transform="matrix(1.00000 0 0 1.04045 107.05 1057.80)" font-size="28.60" fill="#000">0</text>
<text transform="matrix(1.00000 0 0 1.04045 255.80 1057.80)" font-size="28.60" fill="#000">2</text>
<text transform="matrix(1.00000 0 0 1.04045 404.55 1057.80)" font-size="28.60" fill="#000">4</text>
<text transform="matrix(1.00000 0 0 1.04045 553.30 1057.80)" font-size="28.60" fill="#000">6</text>
<text transform="matrix(1.00000 0 0 1.04045 702.05 1057.80)" font-size="28.60" fill="#000">8</text>
<text transform="matrix(1.00000 0 0 1.00000 282.35 1111.70)" font-size="34.80" fill="#000">Radiation dose, Gy</text>
<g fill="#fff"><rect x="41.25" y="103.68" width="5.84" height="4.32"/><rect x="49.81" y="103.68" width="5.68" height="4.32"/><rect x="41.25" y="268.68" width="5.84" height="4.32"/><rect x="49.81" y="268.68" width="5.68" height="4.32"/><rect x="41.25" y="433.68" width="5.84" height="4.32"/><rect x="49.81" y="433.68" width="5.68" height="4.32"/><rect x="41.25" y="602.68" width="5.84" height="4.32"/><rect x="49.81" y="602.68" width="5.68" height="4.32"/><rect x="41.25" y="767.68" width="5.84" height="4.32"/><rect x="49.81" y="767.68" width="5.68" height="4.32"/><rect x="41.25" y="932.68" width="5.84" height="4.32"/><rect x="49.81" y="932.68" width="5.68" height="4.32"/><rect x="678.10" y="120.88" width="5.84" height="4.32"/><rect x="686.66" y="120.88" width="5.68" height="4.32"/><rect x="737.56" y="282.88" width="5.84" height="4.32"/><rect x="746.12" y="282.88" width="5.68" height="4.32"/><rect x="737.56" y="801.18" width="5.84" height="4.32"/><rect x="746.12" y="801.18" width="5.68" height="4.32"/><rect x="225.76" y="969.04" width="7.12" height="5.06"/><rect x="236.20" y="969.04" width="6.93" height="5.06"/></g>
</g></svg>
</body></html>
